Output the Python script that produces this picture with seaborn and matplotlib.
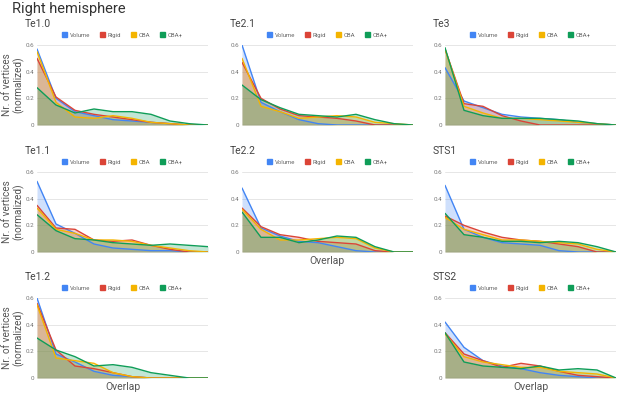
import numpy as np
import pandas as pd
import matplotlib
matplotlib.use("Agg")
import matplotlib.pyplot as plt
import seaborn as sns
from matplotlib.patches import Patch

# Right hemisphere - normalized vertex counts per overlap bin

methods = ["Volume", "Rigid", "CBA", "CBA+"]
colors = ["#4285F4", "#DB4437", "#F4B400", "#0F9D58"]
overlap_bins = list(range(10))

te10_volume = [0.57, 0.20, 0.10, 0.07, 0.04, 0.03, 0.02, 0.01, 0.00, 0.00]
te10_rigid = [0.50, 0.21, 0.11, 0.08, 0.06, 0.04, 0.02, 0.01, 0.00, 0.00]
te10_cba = [0.55, 0.17, 0.06, 0.05, 0.07, 0.05, 0.02, 0.01, 0.00, 0.00]
te10_cbap = [0.28, 0.15, 0.09, 0.12, 0.10, 0.10, 0.08, 0.03, 0.01, 0.00]

te21_volume = [0.60, 0.17, 0.10, 0.04, 0.01, 0.00, 0.00, 0.00, 0.00, 0.00]
te21_rigid = [0.47, 0.20, 0.12, 0.07, 0.06, 0.05, 0.03, 0.00, 0.00, 0.00]
te21_cba = [0.50, 0.14, 0.10, 0.05, 0.06, 0.07, 0.06, 0.02, 0.01, 0.00]
te21_cbap = [0.30, 0.19, 0.13, 0.08, 0.07, 0.06, 0.08, 0.04, 0.01, 0.00]

te3_volume = [0.43, 0.18, 0.13, 0.08, 0.06, 0.05, 0.04, 0.02, 0.01, 0.00]
te3_rigid = [0.57, 0.16, 0.14, 0.07, 0.03, 0.00, 0.00, 0.00, 0.00, 0.00]
te3_cba = [0.57, 0.14, 0.09, 0.05, 0.05, 0.04, 0.03, 0.02, 0.01, 0.00]
te3_cbap = [0.58, 0.11, 0.07, 0.05, 0.05, 0.05, 0.04, 0.03, 0.01, 0.00]

te11_volume = [0.53, 0.21, 0.14, 0.06, 0.03, 0.02, 0.01, 0.01, 0.00, 0.00]
te11_rigid = [0.35, 0.18, 0.17, 0.09, 0.08, 0.09, 0.05, 0.02, 0.00, 0.00]
te11_cba = [0.33, 0.17, 0.14, 0.09, 0.09, 0.08, 0.05, 0.03, 0.01, 0.00]
te11_cbap = [0.28, 0.16, 0.10, 0.09, 0.07, 0.06, 0.05, 0.06, 0.05, 0.04]

te22_volume = [0.48, 0.18, 0.12, 0.08, 0.07, 0.04, 0.01, 0.00, 0.00, 0.00]
te22_rigid = [0.33, 0.19, 0.13, 0.11, 0.08, 0.07, 0.06, 0.01, 0.00, 0.00]
te22_cba = [0.32, 0.17, 0.09, 0.09, 0.10, 0.11, 0.10, 0.03, 0.00, 0.00]
te22_cbap = [0.30, 0.11, 0.11, 0.07, 0.09, 0.12, 0.11, 0.04, 0.00, 0.00]

sts1_volume = [0.50, 0.17, 0.11, 0.07, 0.06, 0.05, 0.01, 0.00, 0.00, 0.00]
sts1_rigid = [0.27, 0.20, 0.15, 0.11, 0.09, 0.08, 0.06, 0.04, 0.00, 0.00]
sts1_cba = [0.26, 0.17, 0.13, 0.09, 0.09, 0.08, 0.07, 0.06, 0.02, 0.00]
sts1_cbap = [0.29, 0.13, 0.11, 0.08, 0.08, 0.07, 0.08, 0.07, 0.04, 0.00]

te12_volume = [0.60, 0.18, 0.12, 0.05, 0.02, 0.01, 0.00, 0.00, 0.00, 0.00]
te12_rigid = [0.56, 0.21, 0.09, 0.07, 0.04, 0.01, 0.00, 0.00, 0.00, 0.00]
te12_cba = [0.55, 0.15, 0.13, 0.11, 0.04, 0.01, 0.00, 0.00, 0.00, 0.00]
te12_cbap = [0.30, 0.21, 0.16, 0.09, 0.10, 0.08, 0.04, 0.02, 0.00, 0.00]

sts2_volume = [0.42, 0.23, 0.13, 0.09, 0.07, 0.04, 0.02, 0.01, 0.00, 0.00]
sts2_rigid = [0.34, 0.18, 0.13, 0.08, 0.11, 0.09, 0.05, 0.02, 0.01, 0.00]
sts2_cba = [0.33, 0.16, 0.12, 0.10, 0.08, 0.08, 0.05, 0.04, 0.03, 0.00]
sts2_cbap = [0.34, 0.12, 0.09, 0.08, 0.07, 0.09, 0.06, 0.07, 0.06, 0.00]

# (title, series, column, row)
panels = [
    ("Te1.0", [te10_volume, te10_rigid, te10_cba, te10_cbap], 0, 0),
    ("Te2.1", [te21_volume, te21_rigid, te21_cba, te21_cbap], 1, 0),
    ("Te3", [te3_volume, te3_rigid, te3_cba, te3_cbap], 2, 0),
    ("Te1.1", [te11_volume, te11_rigid, te11_cba, te11_cbap], 0, 1),
    ("Te2.2", [te22_volume, te22_rigid, te22_cba, te22_cbap], 1, 1),
    ("STS1", [sts1_volume, sts1_rigid, sts1_cba, sts1_cbap], 2, 1),
    ("Te1.2", [te12_volume, te12_rigid, te12_cba, te12_cbap], 0, 2),
    ("STS2", [sts2_volume, sts2_rigid, sts2_cba, sts2_cbap], 2, 2),
]
bottom_panels = {"Te2.2", "Te1.2", "STS2"}


def to_long(series):
    rows = []
    for name, vals in zip(methods, series):
        for b, v in zip(overlap_bins, vals):
            rows.append({"bin": b, "value": v, "method": name})
    return pd.DataFrame(rows)


sns.set_style("white")
plt.rcParams["font.family"] = ["Roboto", "DejaVu Sans"]

W, H = 617, 393
fig = plt.figure(figsize=(W / 100, H / 100), dpi=100)

col_left = [37, 242, 445]
row_bottom = [125, 252, 378]
ax_w, ax_h = 171, 80

fig.text(12 / W, 1 - 9 / H, "Right hemisphere", fontsize=10.5, color="#333333", va="center", ha="left")

for title, series, c, r in panels:
    ax = fig.add_axes([col_left[c] / W, 1 - row_bottom[r] / H, ax_w / W, ax_h / H])
    df = to_long(series)
    for name, col in zip(methods, colors):
        sub = df[df["method"] == name]
        ax.fill_between(sub["bin"], sub["value"], color=col, alpha=0.25, linewidth=0)
    sns.lineplot(data=df, x="bin", y="value", hue="method", palette=colors,
                 hue_order=methods, linewidth=1.0, ax=ax, legend=False)

    ax.set_xlim(0, 9)
    ax.set_ylim(0, 0.6)
    ax.set_yticks([0, 0.2, 0.4, 0.6])
    ax.set_yticklabels(["0", "0.2", "0.4", "0.6"], fontsize=4.5, color="#777777")
    ax.set_xticks([])
    ax.tick_params(axis="y", length=0, pad=2)
    for y in [0.2, 0.4, 0.6]:
        ax.axhline(y, color="#e6e6e6", linewidth=0.7, zorder=0)
    ax.axhline(0, color="#555555", linewidth=0.8, zorder=5)
    for s in ax.spines.values():
        s.set_visible(False)

    ax.text(-12 / ax_w, 1 + 21 / ax_h, title, transform=ax.transAxes,
            fontsize=7.5, color="#444444", ha="left", va="center")

    handles = [Patch(facecolor=col, edgecolor=col, label=name) for name, col in zip(methods, colors)]
    ax.legend(handles=handles, loc="center", bbox_to_anchor=(0.5, 1 + 10 / ax_h),
              ncol=4, frameon=False, fontsize=4.3, handlelength=0.8, handleheight=0.8,
              handletextpad=0.5, columnspacing=1.6, labelcolor="#666666")

    if c == 0:
        ax.set_ylabel("Nr. of vertices\n(normalized)", fontsize=7.2, color="#555555",
                      linespacing=1.1)
        ax.yaxis.set_label_coords(-13 / ax_w, 0.5)
    else:
        ax.set_ylabel("")
    if title in bottom_panels:
        ax.set_xlabel("Overlap", fontsize=7.5, color="#555555", labelpad=3)
    else:
        ax.set_xlabel("")

fig.savefig("out.png", dpi=100)
